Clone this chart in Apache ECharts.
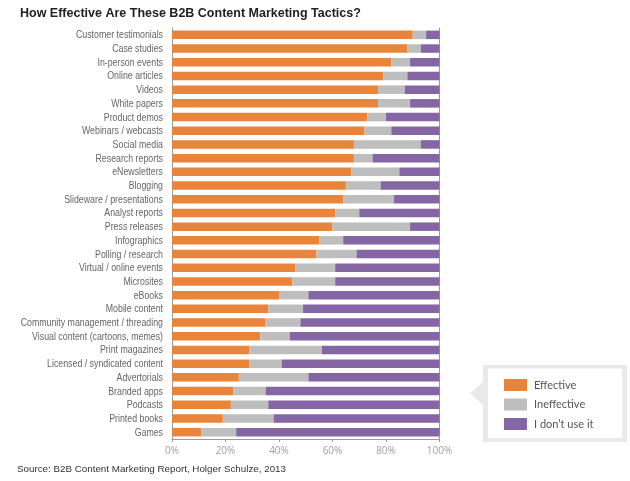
<!DOCTYPE html>
<html><head><meta charset="utf-8">
<script src="https://cdn.jsdelivr.net/npm/echarts@6/dist/echarts.min.js"></script>
<style>html,body{margin:0;padding:0;background:#fff}#c{width:630px;height:481px}</style>
</head><body><div id="c"></div>
<script>
var categories = ["Customer testimonials","Case studies","In-person events","Online articles","Videos","White papers","Product demos","Webinars / webcasts","Social media","Research reports","eNewsletters","Blogging","Slideware / presentations","Analyst reports","Press releases","Infographics","Polling / research","Virtual / online events","Microsites","eBooks","Mobile content","Community management / threading","Visual content (cartoons, memes)","Print magazines","Licensed / syndicated content","Advertorials","Branded apps","Podcasts","Printed books","Games"];
var effective   = [90,88,82,79,77,77,73,72,68,68,67,65,64,61,60,55,54,46,45,40,36,35,33,29,29,25,23,22,19,11];
var ineffective = [5,5,7,9,10,12,7,10,25,7,18,13,19,9,29,9,15,15,16,11,13,13,11,27,12,26,12,14,19,13];
var dontUse     = [5,7,11,12,13,11,20,18,7,25,15,22,17,30,11,36,31,39,39,49,51,52,56,44,59,49,65,64,62,76];
var xTicks = [0,20,40,60,80,100];
var seriesNames = ["Effective","Ineffective","I don\u2019t use it"];
var colors = ["#E9843B","#BEBEBE","#8466A4"];

var chart = echarts.init(document.getElementById('c'), null, {renderer:'canvas'});
var labelFont = '"Liberation Sans",Arial,sans-serif';
var option = {
  animation:false,
  color: colors,
  title:{text:'How Effective Are These B2B Content Marketing Tactics?',left:15,top:2,
    textStyle:{fontFamily:'"Liberation Sans",Arial,sans-serif',fontSize:12.5,fontWeight:'bold',color:'#222'}},
  grid:{left:172,right:190.5,top:28,height:411},
  legend:{orient:'vertical',left:504,top:379,padding:0,itemWidth:23,itemHeight:12,itemGap:7.5,
    icon:'rect',data:seriesNames,
    textStyle:{fontFamily:'Lato,"Open Sans",sans-serif',fontSize:11,color:'#555',padding:[0,0,0,2]}},
  xAxis:{type:'value',min:0,max:100,interval:20,
    axisLine:{show:true,lineStyle:{color:'#9a9a9a',width:1}},
    axisTick:{show:true,length:3,lineStyle:{color:'#9a9a9a'}},
    splitLine:{show:false},
    axisLabel:{formatter:function(v){return xTicks.indexOf(v)>=0? v+'%':'';},color:'#a0a0a0',fontSize:10,margin:7,
      fontFamily:'"Open Sans",sans-serif'}},
  yAxis:[{type:'category',data:categories,inverse:true,
    axisLine:{show:true,lineStyle:{color:'#9a9a9a'}},axisTick:{show:false},
    axisLabel:{show:false}},
    {type:'category',data:categories,inverse:true,position:'right',
    axisLine:{show:true,lineStyle:{color:'#9a9a9a'}},axisTick:{show:false},axisLabel:{show:false}}],
  series:[
    {name:seriesNames[0],type:'bar',stack:'a',data:effective,barWidth:8.5},
    {name:seriesNames[1],type:'bar',stack:'a',data:ineffective,barWidth:8.5},
    {name:seriesNames[2],type:'bar',stack:'a',data:dontUse,barWidth:8.5},
    {name:'labels',type:'custom',clip:false,silent:true,z:5,
      data:categories.map(function(c,i){return [0,i];}),
      encode:{x:0,y:1},
      renderItem:function(params,api){
        var p = api.coord([0, api.value(1)]);
        return {type:'text',x:p[0]-9,y:p[1]+0.5,scaleX:0.8,
          style:{text:categories[params.dataIndex],align:'right',verticalAlign:'middle',
            font:'11px '+labelFont,fill:'#666'}};
      }}
  ],
  graphic:[
    {type:'polygon',z:-1,shape:{points:[[483,365],[627,365],[627,442],[483,442],[483,405],[470,393.5],[483,382]]},style:{fill:'#e9e9e9'}},
    {type:'rect',z:-1,shape:{x:488,y:368.5,width:134,height:69.5},style:{fill:'#fff'}},
    {type:'text',left:17,top:464,style:{text:'Source: B2B Content Marketing Report, Holger Schulze, 2013',
      fontFamily:'"Liberation Sans",Arial,sans-serif',fontSize:9.8,fill:'#333'}}
  ]
};
chart.setOption(option);
</script></body></html>
